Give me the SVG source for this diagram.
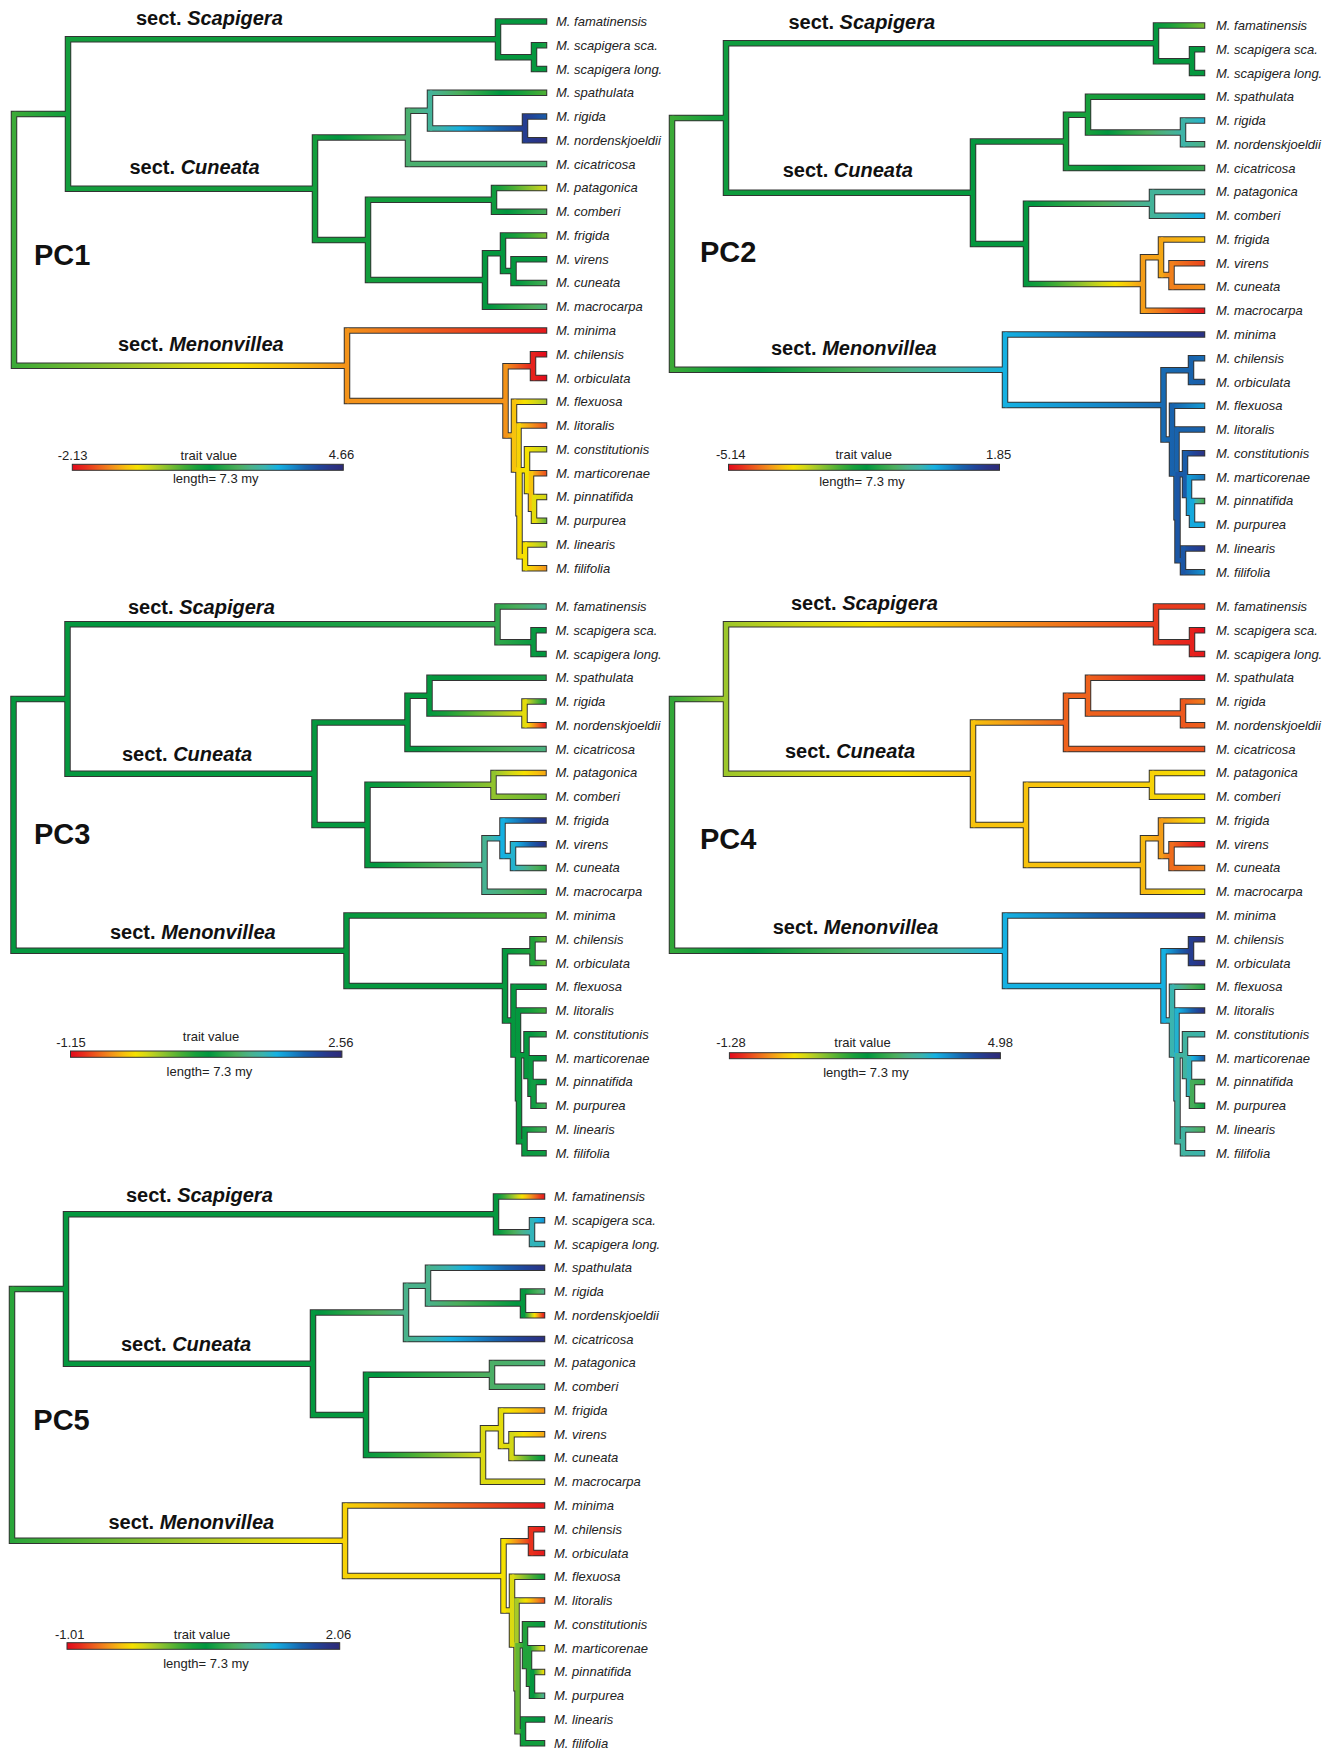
<svg xmlns="http://www.w3.org/2000/svg" width="1340" height="1750" viewBox="0 0 1340 1750">
<style>
.ol{fill:none;stroke:#333;stroke-width:6.5;stroke-linecap:square;stroke-linejoin:miter}
.t{font-family:"Liberation Sans",Arial,sans-serif;font-style:italic;font-size:13px;fill:#222}
.s{font-family:"Liberation Sans",Arial,sans-serif;font-weight:bold;font-size:20px;fill:#111}
.s tspan{font-style:italic}
.p{font-family:"Liberation Sans",Arial,sans-serif;font-weight:bold;font-size:29px;fill:#111}
.l{font-family:"Liberation Sans",Arial,sans-serif;font-size:13px;fill:#222;text-anchor:middle}
.bar{fill:url(#PB);stroke:#333;stroke-width:1}
</style>
<defs>
<linearGradient id="P" gradientUnits="userSpaceOnUse" x1="0" y1="0" x2="1" y2="0">
<stop offset="0" stop-color="#E30A1C"/><stop offset=".05" stop-color="#E8301D"/><stop offset=".1" stop-color="#EE611D"/><stop offset=".15" stop-color="#F3921A"/><stop offset=".2" stop-color="#F7C20D"/><stop offset=".24" stop-color="#F6E100"/><stop offset=".28" stop-color="#D4D816"/><stop offset=".32" stop-color="#A8CA28"/><stop offset=".36" stop-color="#7BBD31"/><stop offset=".41" stop-color="#45AD36"/><stop offset=".46" stop-color="#18A03C"/><stop offset=".51" stop-color="#00963F"/><stop offset=".56" stop-color="#28A548"/><stop offset=".61" stop-color="#4BAE5C"/><stop offset=".66" stop-color="#4AB28A"/><stop offset=".71" stop-color="#3BB4AE"/><stop offset=".76" stop-color="#15B1E2"/><stop offset=".81" stop-color="#168CCB"/><stop offset=".86" stop-color="#1863AD"/><stop offset=".91" stop-color="#20459A"/><stop offset=".955" stop-color="#2A3486"/><stop offset="1" stop-color="#2D2A78"/>
</linearGradient>
<linearGradient id="PR" href="#P" gradientUnits="userSpaceOnUse" x1="1" y1="0" x2="0" y2="0"/>
<linearGradient id="PB" href="#P" gradientUnits="objectBoundingBox" x1="0" y1="0" x2="1" y2="0"/>
<rect id="R" x="-1" y="-1" width="3" height="3" fill="url(#P)"/>
<rect id="Q" x="-1" y="-1" width="3" height="3" fill="url(#PR)"/>
<path id="T" d="M0 218.34V92.48H54M0 218.34V344.2H333M54 92.48V17.83H484M54 92.48V167.13H301M484 17.83V0H530M484 17.83V35.66H520M520 35.66V23.77H530M520 35.66V47.54H530M301 167.13V115.88H394M301 167.13V218.39H354M394 115.88V89.14H416M394 115.88V142.62H530M416 89.14V71.31H530M416 89.14V106.97H511M511 106.97V95.08H530M511 106.97V118.85H530M354 218.39V178.28H480M354 218.39V258.5H471M480 178.28V166.39H530M480 178.28V190.16H530M471 258.5V231.76H489M471 258.5V285.24H530M489 231.76V213.93H530M489 231.76V249.59H499.5M499.5 249.59V237.7H530M499.5 249.59V261.47H530M333 344.2V309.01H530M333 344.2V379.39H491.5M491.5 379.39V344.67H519M491.5 379.39V414.12H500M519 344.67V332.78H530M519 344.67V356.55H530M500 414.12V380.32H530M500 414.12V447.92H504.5M504.5 447.92V404.09H530M504.5 447.92V491.75H505.5M505.5 491.75V448.66H513M505.5 491.75V534.83H511M513 448.66V427.86H530M513 448.66V469.46H517M517 469.46V451.63H530M517 469.46V487.29H520M520 487.29V475.4H530M520 487.29V499.17H530M511 534.83V522.94H530M511 534.83V546.71H530"/>
</defs>
<rect width="1340" height="1750" fill="#fff"/>

<!-- ================= PC1 ================= -->
<g id="pc1" transform="translate(14 21.5)">
<g id="pc1-edges">
<use href="#T" class="ol"/>
<svg x="0" y="90.23" width="54" height="4.5" viewBox=".42 0 .05 1" preserveAspectRatio="none"><use href="#R"/></svg>
<svg x="0" y="341.95" width="333" height="4.5" viewBox=".58 0 .27 1" preserveAspectRatio="none"><use href="#Q"/></svg>
<svg x="54" y="15.58" width="430" height="4.5" viewBox=".47 0 .03 1" preserveAspectRatio="none"><use href="#R"/></svg>
<svg x="54" y="164.88" width="247" height="4.5" viewBox=".47 0 .002 1" preserveAspectRatio="none"><use href="#R"/></svg>
<svg x="484" y="-2.25" width="48.25" height="4.5" viewBox=".5 0 .002 1" preserveAspectRatio="none"><use href="#R"/></svg>
<svg x="484" y="33.41" width="36" height="4.5" viewBox=".5 0 .002 1" preserveAspectRatio="none"><use href="#R"/></svg>
<svg x="520" y="21.52" width="12.25" height="4.5" viewBox=".5 0 .05 1" preserveAspectRatio="none"><use href="#R"/></svg>
<svg x="520" y="45.29" width="12.25" height="4.5" viewBox=".5 0 .002 1" preserveAspectRatio="none"><use href="#R"/></svg>
<svg x="301" y="113.63" width="93" height="4.5" viewBox=".47 0 .16 1" preserveAspectRatio="none"><use href="#R"/></svg>
<svg x="301" y="216.14" width="53" height="4.5" viewBox=".47 0 .002 1" preserveAspectRatio="none"><use href="#R"/></svg>
<svg x="394" y="86.89" width="22" height="4.5" viewBox=".63 0 .05 1" preserveAspectRatio="none"><use href="#R"/></svg>
<svg x="394" y="140.37" width="138.25" height="4.5" viewBox=".63 0 .002 1" preserveAspectRatio="none"><use href="#R"/></svg>
<svg x="416" y="69.06" width="116.25" height="4.5" viewBox=".32 0 .28 1" preserveAspectRatio="none"><use href="#Q"/></svg>
<svg x="416" y="104.72" width="95" height="4.5" viewBox=".68 0 .25 1" preserveAspectRatio="none"><use href="#R"/></svg>
<svg x="511" y="92.83" width="21.25" height="4.5" viewBox=".07 0 .06 1" preserveAspectRatio="none"><use href="#Q"/></svg>
<svg x="511" y="116.6" width="21.25" height="4.5" viewBox=".93 0 .04 1" preserveAspectRatio="none"><use href="#R"/></svg>
<svg x="354" y="176.03" width="126" height="4.5" viewBox=".47 0 .01 1" preserveAspectRatio="none"><use href="#R"/></svg>
<svg x="354" y="256.25" width="117" height="4.5" viewBox=".47 0 .03 1" preserveAspectRatio="none"><use href="#R"/></svg>
<svg x="480" y="164.14" width="52.25" height="4.5" viewBox=".52 0 .2 1" preserveAspectRatio="none"><use href="#Q"/></svg>
<svg x="480" y="187.91" width="52.25" height="4.5" viewBox=".48 0 .12 1" preserveAspectRatio="none"><use href="#R"/></svg>
<svg x="471" y="229.51" width="18" height="4.5" viewBox=".5 0 .002 1" preserveAspectRatio="none"><use href="#R"/></svg>
<svg x="471" y="282.99" width="61.25" height="4.5" viewBox=".5 0 .14 1" preserveAspectRatio="none"><use href="#R"/></svg>
<svg x="489" y="211.68" width="43.25" height="4.5" viewBox=".5 0 .14 1" preserveAspectRatio="none"><use href="#Q"/></svg>
<svg x="489" y="247.34" width="10.5" height="4.5" viewBox=".5 0 .002 1" preserveAspectRatio="none"><use href="#R"/></svg>
<svg x="499.5" y="235.45" width="32.75" height="4.5" viewBox=".5 0 .002 1" preserveAspectRatio="none"><use href="#R"/></svg>
<svg x="499.5" y="259.22" width="32.75" height="4.5" viewBox=".5 0 .1 1" preserveAspectRatio="none"><use href="#R"/></svg>
<svg x="333" y="306.76" width="199.25" height="4.5" viewBox=".85 0 .13 1" preserveAspectRatio="none"><use href="#Q"/></svg>
<svg x="333" y="377.14" width="158.5" height="4.5" viewBox=".15 0 .002 1" preserveAspectRatio="none"><use href="#R"/></svg>
<svg x="491.5" y="342.42" width="27.5" height="4.5" viewBox=".85 0 .12 1" preserveAspectRatio="none"><use href="#Q"/></svg>
<svg x="491.5" y="411.87" width="8.5" height="4.5" viewBox=".15 0 .05 1" preserveAspectRatio="none"><use href="#R"/></svg>
<svg x="519" y="330.53" width="13.25" height="4.5" viewBox=".97 0 .03 1" preserveAspectRatio="none"><use href="#Q"/></svg>
<svg x="519" y="354.3" width="13.25" height="4.5" viewBox=".97 0 .03 1" preserveAspectRatio="none"><use href="#Q"/></svg>
<svg x="500" y="378.07" width="32.25" height="4.5" viewBox=".2 0 .12 1" preserveAspectRatio="none"><use href="#R"/></svg>
<svg x="500" y="445.67" width="4.5" height="4.5" viewBox=".2 0 .02 1" preserveAspectRatio="none"><use href="#R"/></svg>
<svg x="504.5" y="401.84" width="27.75" height="4.5" viewBox=".78 0 .14 1" preserveAspectRatio="none"><use href="#Q"/></svg>
<svg x="504.5" y="489.5" width="1" height="4.5" viewBox=".22 0 .01 1" preserveAspectRatio="none"><use href="#R"/></svg>
<svg x="505.5" y="446.41" width="7.5" height="4.5" viewBox=".23 0 .01 1" preserveAspectRatio="none"><use href="#R"/></svg>
<svg x="505.5" y="532.58" width="5.5" height="4.5" viewBox=".23 0 .01 1" preserveAspectRatio="none"><use href="#R"/></svg>
<svg x="513" y="425.61" width="19.25" height="4.5" viewBox=".24 0 .06 1" preserveAspectRatio="none"><use href="#R"/></svg>
<svg x="513" y="467.21" width="4" height="4.5" viewBox=".76 0 .04 1" preserveAspectRatio="none"><use href="#Q"/></svg>
<svg x="517" y="449.38" width="15.25" height="4.5" viewBox=".8 0 .12 1" preserveAspectRatio="none"><use href="#Q"/></svg>
<svg x="517" y="485.04" width="3" height="4.5" viewBox=".2 0 .06 1" preserveAspectRatio="none"><use href="#R"/></svg>
<svg x="520" y="473.15" width="12.25" height="4.5" viewBox=".26 0 .02 1" preserveAspectRatio="none"><use href="#R"/></svg>
<svg x="520" y="496.92" width="12.25" height="4.5" viewBox=".26 0 .12 1" preserveAspectRatio="none"><use href="#R"/></svg>
<svg x="511" y="520.69" width="21.25" height="4.5" viewBox=".24 0 .09 1" preserveAspectRatio="none"><use href="#R"/></svg>
<svg x="511" y="544.46" width="21.25" height="4.5" viewBox=".76 0 .09 1" preserveAspectRatio="none"><use href="#Q"/></svg>
<svg x="-2.25" y="90.23" width="4.5" height="256.22" viewBox=".42 0 .002 1" preserveAspectRatio="none"><use href="#R"/></svg>
<svg x="51.75" y="15.58" width="4.5" height="153.8" viewBox=".47 0 .002 1" preserveAspectRatio="none"><use href="#R"/></svg>
<svg x="481.75" y="-2.25" width="4.5" height="40.16" viewBox=".5 0 .002 1" preserveAspectRatio="none"><use href="#R"/></svg>
<svg x="517.75" y="21.52" width="4.5" height="28.27" viewBox=".5 0 .002 1" preserveAspectRatio="none"><use href="#R"/></svg>
<svg x="298.75" y="113.63" width="4.5" height="107.01" viewBox=".47 0 .002 1" preserveAspectRatio="none"><use href="#R"/></svg>
<svg x="391.75" y="86.89" width="4.5" height="57.98" viewBox=".63 0 .002 1" preserveAspectRatio="none"><use href="#R"/></svg>
<svg x="413.75" y="69.06" width="4.5" height="40.16" viewBox=".68 0 .002 1" preserveAspectRatio="none"><use href="#R"/></svg>
<svg x="508.75" y="92.83" width="4.5" height="28.27" viewBox=".93 0 .002 1" preserveAspectRatio="none"><use href="#R"/></svg>
<svg x="351.75" y="176.03" width="4.5" height="84.72" viewBox=".47 0 .002 1" preserveAspectRatio="none"><use href="#R"/></svg>
<svg x="477.75" y="164.14" width="4.5" height="28.27" viewBox=".48 0 .002 1" preserveAspectRatio="none"><use href="#R"/></svg>
<svg x="468.75" y="229.51" width="4.5" height="57.98" viewBox=".5 0 .002 1" preserveAspectRatio="none"><use href="#R"/></svg>
<svg x="486.75" y="211.68" width="4.5" height="40.16" viewBox=".5 0 .002 1" preserveAspectRatio="none"><use href="#R"/></svg>
<svg x="497.25" y="235.45" width="4.5" height="28.27" viewBox=".5 0 .002 1" preserveAspectRatio="none"><use href="#R"/></svg>
<svg x="330.75" y="306.76" width="4.5" height="74.88" viewBox=".15 0 .002 1" preserveAspectRatio="none"><use href="#R"/></svg>
<svg x="489.25" y="342.42" width="4.5" height="73.95" viewBox=".15 0 .002 1" preserveAspectRatio="none"><use href="#R"/></svg>
<svg x="516.75" y="330.53" width="4.5" height="28.27" viewBox=".03 0 .002 1" preserveAspectRatio="none"><use href="#R"/></svg>
<svg x="497.75" y="378.07" width="4.5" height="72.1" viewBox=".2 0 .002 1" preserveAspectRatio="none"><use href="#R"/></svg>
<svg x="502.25" y="401.84" width="4.5" height="92.16" viewBox=".22 0 .002 1" preserveAspectRatio="none"><use href="#R"/></svg>
<svg x="503.25" y="446.41" width="4.5" height="90.67" viewBox=".23 0 .002 1" preserveAspectRatio="none"><use href="#R"/></svg>
<svg x="510.75" y="425.61" width="4.5" height="46.1" viewBox=".24 0 .002 1" preserveAspectRatio="none"><use href="#R"/></svg>
<svg x="514.75" y="449.38" width="4.5" height="40.16" viewBox=".2 0 .002 1" preserveAspectRatio="none"><use href="#R"/></svg>
<svg x="517.75" y="473.15" width="4.5" height="28.27" viewBox=".26 0 .002 1" preserveAspectRatio="none"><use href="#R"/></svg>
<svg x="508.75" y="520.69" width="4.5" height="28.27" viewBox=".24 0 .002 1" preserveAspectRatio="none"><use href="#R"/></svg>
</g>
<g id="pc1-tips">
<text class="t" x="542" y="4.5">M. famatinensis</text>
<text class="t" x="542" y="28.27">M. scapigera sca.</text>
<text class="t" x="542" y="52.04">M. scapigera long.</text>
<text class="t" x="542" y="75.81">M. spathulata</text>
<text class="t" x="542" y="99.58">M. rigida</text>
<text class="t" x="542" y="123.35">M. nordenskjoeldii</text>
<text class="t" x="542" y="147.12">M. cicatricosa</text>
<text class="t" x="542" y="170.89">M. patagonica</text>
<text class="t" x="542" y="194.66">M. comberi</text>
<text class="t" x="542" y="218.43">M. frigida</text>
<text class="t" x="542" y="242.2">M. virens</text>
<text class="t" x="542" y="265.97">M. cuneata</text>
<text class="t" x="542" y="289.74">M. macrocarpa</text>
<text class="t" x="542" y="313.51">M. minima</text>
<text class="t" x="542" y="337.28">M. chilensis</text>
<text class="t" x="542" y="361.05">M. orbiculata</text>
<text class="t" x="542" y="384.82">M. flexuosa</text>
<text class="t" x="542" y="408.59">M. litoralis</text>
<text class="t" x="542" y="432.36">M. constitutionis</text>
<text class="t" x="542" y="456.13">M. marticorenae</text>
<text class="t" x="542" y="479.9">M. pinnatifida</text>
<text class="t" x="542" y="503.67">M. purpurea</text>
<text class="t" x="542" y="527.44">M. linearis</text>
<text class="t" x="542" y="551.21">M. filifolia</text>
</g>
</g>
<g id="pc1-labels">
<text class="s" x="136" y="25.3">sect. <tspan>Scapigera</tspan></text>
<text class="s" x="129.5" y="173.6">sect. <tspan>Cuneata</tspan></text>
<text class="s" x="118" y="351">sect. <tspan>Menonvillea</tspan></text>
<text class="p" x="34" y="265">PC1</text>
</g>
<g id="pc1-legend">
<text class="l" x="72.6" y="459.5">-2.13</text>
<text class="l" x="208.8" y="459.5">trait value</text>
<text class="l" x="341.5" y="458.5">4.66</text>
<rect class="bar" x="72.3" y="464.3" width="271" height="6"/>
<text class="l" x="215.8" y="482.5">length= 7.3 my</text>
</g>

<!-- ================= PC2 ================= -->
<g id="pc2" transform="translate(672 25.5)">
<g id="pc2-edges">
<use href="#T" class="ol"/>
<svg x="0" y="90.23" width="54" height="4.5" viewBox=".42 0 .06 1" preserveAspectRatio="none"><use href="#R"/></svg>
<svg x="0" y="341.95" width="333" height="4.5" viewBox=".42 0 .34 1" preserveAspectRatio="none"><use href="#R"/></svg>
<svg x="54" y="15.58" width="430" height="4.5" viewBox=".48 0 .02 1" preserveAspectRatio="none"><use href="#R"/></svg>
<svg x="54" y="164.88" width="247" height="4.5" viewBox=".48 0 .02 1" preserveAspectRatio="none"><use href="#R"/></svg>
<svg x="484" y="-2.25" width="48.25" height="4.5" viewBox=".5 0 .14 1" preserveAspectRatio="none"><use href="#Q"/></svg>
<svg x="484" y="33.41" width="36" height="4.5" viewBox=".5 0 .002 1" preserveAspectRatio="none"><use href="#R"/></svg>
<svg x="520" y="21.52" width="12.25" height="4.5" viewBox=".5 0 .002 1" preserveAspectRatio="none"><use href="#R"/></svg>
<svg x="520" y="45.29" width="12.25" height="4.5" viewBox=".5 0 .002 1" preserveAspectRatio="none"><use href="#R"/></svg>
<svg x="301" y="113.63" width="93" height="4.5" viewBox=".5 0 .03 1" preserveAspectRatio="none"><use href="#Q"/></svg>
<svg x="301" y="216.14" width="53" height="4.5" viewBox=".5 0 .002 1" preserveAspectRatio="none"><use href="#R"/></svg>
<svg x="394" y="86.89" width="22" height="4.5" viewBox=".53 0 .01 1" preserveAspectRatio="none"><use href="#Q"/></svg>
<svg x="394" y="140.37" width="138.25" height="4.5" viewBox=".47 0 .11 1" preserveAspectRatio="none"><use href="#R"/></svg>
<svg x="416" y="69.06" width="116.25" height="4.5" viewBox=".46 0 .04 1" preserveAspectRatio="none"><use href="#R"/></svg>
<svg x="416" y="104.72" width="95" height="4.5" viewBox=".46 0 .24 1" preserveAspectRatio="none"><use href="#R"/></svg>
<svg x="511" y="92.83" width="21.25" height="4.5" viewBox=".7 0 .04 1" preserveAspectRatio="none"><use href="#R"/></svg>
<svg x="511" y="116.6" width="21.25" height="4.5" viewBox=".3 0 .05 1" preserveAspectRatio="none"><use href="#Q"/></svg>
<svg x="354" y="176.03" width="126" height="4.5" viewBox=".5 0 .18 1" preserveAspectRatio="none"><use href="#R"/></svg>
<svg x="354" y="256.25" width="117" height="4.5" viewBox=".5 0 .34 1" preserveAspectRatio="none"><use href="#Q"/></svg>
<svg x="480" y="164.14" width="52.25" height="4.5" viewBox=".68 0 .002 1" preserveAspectRatio="none"><use href="#R"/></svg>
<svg x="480" y="187.91" width="52.25" height="4.5" viewBox=".68 0 .09 1" preserveAspectRatio="none"><use href="#R"/></svg>
<svg x="471" y="229.51" width="18" height="4.5" viewBox=".16 0 .01 1" preserveAspectRatio="none"><use href="#R"/></svg>
<svg x="471" y="282.99" width="61.25" height="4.5" viewBox=".84 0 .14 1" preserveAspectRatio="none"><use href="#Q"/></svg>
<svg x="489" y="211.68" width="43.25" height="4.5" viewBox=".17 0 .03 1" preserveAspectRatio="none"><use href="#R"/></svg>
<svg x="489" y="247.34" width="10.5" height="4.5" viewBox=".83 0 .04 1" preserveAspectRatio="none"><use href="#Q"/></svg>
<svg x="499.5" y="235.45" width="32.75" height="4.5" viewBox=".87 0 .06 1" preserveAspectRatio="none"><use href="#Q"/></svg>
<svg x="499.5" y="259.22" width="32.75" height="4.5" viewBox=".13 0 .02 1" preserveAspectRatio="none"><use href="#R"/></svg>
<svg x="333" y="306.76" width="199.25" height="4.5" viewBox=".76 0 .2 1" preserveAspectRatio="none"><use href="#R"/></svg>
<svg x="333" y="377.14" width="158.5" height="4.5" viewBox=".76 0 .09 1" preserveAspectRatio="none"><use href="#R"/></svg>
<svg x="491.5" y="342.42" width="27.5" height="4.5" viewBox=".85 0 .01 1" preserveAspectRatio="none"><use href="#R"/></svg>
<svg x="491.5" y="411.87" width="8.5" height="4.5" viewBox=".85 0 .01 1" preserveAspectRatio="none"><use href="#R"/></svg>
<svg x="519" y="330.53" width="13.25" height="4.5" viewBox=".14 0 .01 1" preserveAspectRatio="none"><use href="#Q"/></svg>
<svg x="519" y="354.3" width="13.25" height="4.5" viewBox=".86 0 .01 1" preserveAspectRatio="none"><use href="#R"/></svg>
<svg x="500" y="378.07" width="32.25" height="4.5" viewBox=".14 0 .07 1" preserveAspectRatio="none"><use href="#Q"/></svg>
<svg x="500" y="445.67" width="4.5" height="4.5" viewBox=".86 0 .002 1" preserveAspectRatio="none"><use href="#R"/></svg>
<svg x="504.5" y="401.84" width="27.75" height="4.5" viewBox=".86 0 .002 1" preserveAspectRatio="none"><use href="#R"/></svg>
<svg x="504.5" y="489.5" width="1" height="4.5" viewBox=".86 0 .02 1" preserveAspectRatio="none"><use href="#R"/></svg>
<svg x="505.5" y="446.41" width="7.5" height="4.5" viewBox=".12 0 .01 1" preserveAspectRatio="none"><use href="#Q"/></svg>
<svg x="505.5" y="532.58" width="5.5" height="4.5" viewBox=".88 0 .002 1" preserveAspectRatio="none"><use href="#R"/></svg>
<svg x="513" y="425.61" width="19.25" height="4.5" viewBox=".87 0 .09 1" preserveAspectRatio="none"><use href="#R"/></svg>
<svg x="513" y="467.21" width="4" height="4.5" viewBox=".13 0 .08 1" preserveAspectRatio="none"><use href="#Q"/></svg>
<svg x="517" y="449.38" width="15.25" height="4.5" viewBox=".79 0 .05 1" preserveAspectRatio="none"><use href="#R"/></svg>
<svg x="517" y="485.04" width="3" height="4.5" viewBox=".21 0 .02 1" preserveAspectRatio="none"><use href="#Q"/></svg>
<svg x="520" y="473.15" width="12.25" height="4.5" viewBox=".23 0 .19 1" preserveAspectRatio="none"><use href="#Q"/></svg>
<svg x="520" y="496.92" width="12.25" height="4.5" viewBox=".77 0 .002 1" preserveAspectRatio="none"><use href="#R"/></svg>
<svg x="511" y="520.69" width="21.25" height="4.5" viewBox=".88 0 .07 1" preserveAspectRatio="none"><use href="#R"/></svg>
<svg x="511" y="544.46" width="21.25" height="4.5" viewBox=".12 0 .08 1" preserveAspectRatio="none"><use href="#Q"/></svg>
<svg x="-2.25" y="90.23" width="4.5" height="256.22" viewBox=".42 0 .002 1" preserveAspectRatio="none"><use href="#R"/></svg>
<svg x="51.75" y="15.58" width="4.5" height="153.8" viewBox=".48 0 .002 1" preserveAspectRatio="none"><use href="#R"/></svg>
<svg x="481.75" y="-2.25" width="4.5" height="40.16" viewBox=".5 0 .002 1" preserveAspectRatio="none"><use href="#R"/></svg>
<svg x="517.75" y="21.52" width="4.5" height="28.27" viewBox=".5 0 .002 1" preserveAspectRatio="none"><use href="#R"/></svg>
<svg x="298.75" y="113.63" width="4.5" height="107.01" viewBox=".5 0 .002 1" preserveAspectRatio="none"><use href="#R"/></svg>
<svg x="391.75" y="86.89" width="4.5" height="57.98" viewBox=".47 0 .002 1" preserveAspectRatio="none"><use href="#R"/></svg>
<svg x="413.75" y="69.06" width="4.5" height="40.16" viewBox=".46 0 .002 1" preserveAspectRatio="none"><use href="#R"/></svg>
<svg x="508.75" y="92.83" width="4.5" height="28.27" viewBox=".7 0 .002 1" preserveAspectRatio="none"><use href="#R"/></svg>
<svg x="351.75" y="176.03" width="4.5" height="84.72" viewBox=".5 0 .002 1" preserveAspectRatio="none"><use href="#R"/></svg>
<svg x="477.75" y="164.14" width="4.5" height="28.27" viewBox=".68 0 .002 1" preserveAspectRatio="none"><use href="#R"/></svg>
<svg x="468.75" y="229.51" width="4.5" height="57.98" viewBox=".16 0 .002 1" preserveAspectRatio="none"><use href="#R"/></svg>
<svg x="486.75" y="211.68" width="4.5" height="40.16" viewBox=".17 0 .002 1" preserveAspectRatio="none"><use href="#R"/></svg>
<svg x="497.25" y="235.45" width="4.5" height="28.27" viewBox=".13 0 .002 1" preserveAspectRatio="none"><use href="#R"/></svg>
<svg x="330.75" y="306.76" width="4.5" height="74.88" viewBox=".76 0 .002 1" preserveAspectRatio="none"><use href="#R"/></svg>
<svg x="489.25" y="342.42" width="4.5" height="73.95" viewBox=".85 0 .002 1" preserveAspectRatio="none"><use href="#R"/></svg>
<svg x="516.75" y="330.53" width="4.5" height="28.27" viewBox=".86 0 .002 1" preserveAspectRatio="none"><use href="#R"/></svg>
<svg x="497.75" y="378.07" width="4.5" height="72.1" viewBox=".86 0 .002 1" preserveAspectRatio="none"><use href="#R"/></svg>
<svg x="502.25" y="401.84" width="4.5" height="92.16" viewBox=".86 0 .002 1" preserveAspectRatio="none"><use href="#R"/></svg>
<svg x="503.25" y="446.41" width="4.5" height="90.67" viewBox=".88 0 .002 1" preserveAspectRatio="none"><use href="#R"/></svg>
<svg x="510.75" y="425.61" width="4.5" height="46.1" viewBox=".87 0 .002 1" preserveAspectRatio="none"><use href="#R"/></svg>
<svg x="514.75" y="449.38" width="4.5" height="40.16" viewBox=".79 0 .002 1" preserveAspectRatio="none"><use href="#R"/></svg>
<svg x="517.75" y="473.15" width="4.5" height="28.27" viewBox=".77 0 .002 1" preserveAspectRatio="none"><use href="#R"/></svg>
<svg x="508.75" y="520.69" width="4.5" height="28.27" viewBox=".88 0 .002 1" preserveAspectRatio="none"><use href="#R"/></svg>
</g>
<g id="pc2-tips">
<text class="t" x="544" y="4.5">M. famatinensis</text>
<text class="t" x="544" y="28.27">M. scapigera sca.</text>
<text class="t" x="544" y="52.04">M. scapigera long.</text>
<text class="t" x="544" y="75.81">M. spathulata</text>
<text class="t" x="544" y="99.58">M. rigida</text>
<text class="t" x="544" y="123.35">M. nordenskjoeldii</text>
<text class="t" x="544" y="147.12">M. cicatricosa</text>
<text class="t" x="544" y="170.89">M. patagonica</text>
<text class="t" x="544" y="194.66">M. comberi</text>
<text class="t" x="544" y="218.43">M. frigida</text>
<text class="t" x="544" y="242.2">M. virens</text>
<text class="t" x="544" y="265.97">M. cuneata</text>
<text class="t" x="544" y="289.74">M. macrocarpa</text>
<text class="t" x="544" y="313.51">M. minima</text>
<text class="t" x="544" y="337.28">M. chilensis</text>
<text class="t" x="544" y="361.05">M. orbiculata</text>
<text class="t" x="544" y="384.82">M. flexuosa</text>
<text class="t" x="544" y="408.59">M. litoralis</text>
<text class="t" x="544" y="432.36">M. constitutionis</text>
<text class="t" x="544" y="456.13">M. marticorenae</text>
<text class="t" x="544" y="479.9">M. pinnatifida</text>
<text class="t" x="544" y="503.67">M. purpurea</text>
<text class="t" x="544" y="527.44">M. linearis</text>
<text class="t" x="544" y="551.21">M. filifolia</text>
</g>
</g>
<g id="pc2-labels">
<text class="s" x="788.4" y="28.6">sect. <tspan>Scapigera</tspan></text>
<text class="s" x="782.7" y="177">sect. <tspan>Cuneata</tspan></text>
<text class="s" x="771" y="354.6">sect. <tspan>Menonvillea</tspan></text>
<text class="p" x="700" y="262">PC2</text>
</g>
<g id="pc2-legend">
<text class="l" x="730.8" y="459">-5.14</text>
<text class="l" x="863.7" y="459">trait value</text>
<text class="l" x="998.6" y="459">1.85</text>
<rect class="bar" x="728.5" y="464.3" width="271" height="6"/>
<text class="l" x="862" y="486">length= 7.3 my</text>
</g>

<!-- ================= PC3 ================= -->
<g id="pc3" transform="translate(13.5 606.5)">
<g id="pc3-edges">
<use href="#T" class="ol"/>
<svg x="0" y="90.23" width="54" height="4.5" viewBox=".5 0 .002 1" preserveAspectRatio="none"><use href="#R"/></svg>
<svg x="0" y="341.95" width="333" height="4.5" viewBox=".5 0 .002 1" preserveAspectRatio="none"><use href="#R"/></svg>
<svg x="54" y="15.58" width="430" height="4.5" viewBox=".5 0 .07 1" preserveAspectRatio="none"><use href="#R"/></svg>
<svg x="54" y="164.88" width="247" height="4.5" viewBox=".5 0 .002 1" preserveAspectRatio="none"><use href="#R"/></svg>
<svg x="484" y="-2.25" width="48.25" height="4.5" viewBox=".57 0 .1 1" preserveAspectRatio="none"><use href="#R"/></svg>
<svg x="484" y="33.41" width="36" height="4.5" viewBox=".43 0 .05 1" preserveAspectRatio="none"><use href="#Q"/></svg>
<svg x="520" y="21.52" width="12.25" height="4.5" viewBox=".48 0 .02 1" preserveAspectRatio="none"><use href="#Q"/></svg>
<svg x="520" y="45.29" width="12.25" height="4.5" viewBox=".48 0 .02 1" preserveAspectRatio="none"><use href="#Q"/></svg>
<svg x="301" y="113.63" width="93" height="4.5" viewBox=".5 0 .002 1" preserveAspectRatio="none"><use href="#R"/></svg>
<svg x="301" y="216.14" width="53" height="4.5" viewBox=".5 0 .002 1" preserveAspectRatio="none"><use href="#R"/></svg>
<svg x="394" y="86.89" width="22" height="4.5" viewBox=".5 0 .002 1" preserveAspectRatio="none"><use href="#R"/></svg>
<svg x="394" y="140.37" width="138.25" height="4.5" viewBox=".5 0 .15 1" preserveAspectRatio="none"><use href="#R"/></svg>
<svg x="416" y="69.06" width="116.25" height="4.5" viewBox=".5 0 .04 1" preserveAspectRatio="none"><use href="#R"/></svg>
<svg x="416" y="104.72" width="95" height="4.5" viewBox=".5 0 .24 1" preserveAspectRatio="none"><use href="#Q"/></svg>
<svg x="511" y="92.83" width="21.25" height="4.5" viewBox=".26 0 .22 1" preserveAspectRatio="none"><use href="#R"/></svg>
<svg x="511" y="116.6" width="21.25" height="4.5" viewBox=".74 0 .24 1" preserveAspectRatio="none"><use href="#Q"/></svg>
<svg x="354" y="176.03" width="126" height="4.5" viewBox=".5 0 .16 1" preserveAspectRatio="none"><use href="#Q"/></svg>
<svg x="354" y="256.25" width="117" height="4.5" viewBox=".5 0 .17 1" preserveAspectRatio="none"><use href="#R"/></svg>
<svg x="480" y="164.14" width="52.25" height="4.5" viewBox=".66 0 .17 1" preserveAspectRatio="none"><use href="#Q"/></svg>
<svg x="480" y="187.91" width="52.25" height="4.5" viewBox=".34 0 .04 1" preserveAspectRatio="none"><use href="#R"/></svg>
<svg x="471" y="229.51" width="18" height="4.5" viewBox=".67 0 .09 1" preserveAspectRatio="none"><use href="#R"/></svg>
<svg x="471" y="282.99" width="61.25" height="4.5" viewBox=".33 0 .1 1" preserveAspectRatio="none"><use href="#Q"/></svg>
<svg x="489" y="211.68" width="43.25" height="4.5" viewBox=".76 0 .2 1" preserveAspectRatio="none"><use href="#R"/></svg>
<svg x="489" y="247.34" width="10.5" height="4.5" viewBox=".24 0 .02 1" preserveAspectRatio="none"><use href="#Q"/></svg>
<svg x="499.5" y="235.45" width="32.75" height="4.5" viewBox=".74 0 .22 1" preserveAspectRatio="none"><use href="#R"/></svg>
<svg x="499.5" y="259.22" width="32.75" height="4.5" viewBox=".26 0 .18 1" preserveAspectRatio="none"><use href="#Q"/></svg>
<svg x="333" y="306.76" width="199.25" height="4.5" viewBox=".5 0 .1 1" preserveAspectRatio="none"><use href="#Q"/></svg>
<svg x="333" y="377.14" width="158.5" height="4.5" viewBox=".5 0 .002 1" preserveAspectRatio="none"><use href="#R"/></svg>
<svg x="491.5" y="342.42" width="27.5" height="4.5" viewBox=".5 0 .05 1" preserveAspectRatio="none"><use href="#Q"/></svg>
<svg x="491.5" y="411.87" width="8.5" height="4.5" viewBox=".5 0 .002 1" preserveAspectRatio="none"><use href="#R"/></svg>
<svg x="519" y="330.53" width="13.25" height="4.5" viewBox=".55 0 .07 1" preserveAspectRatio="none"><use href="#Q"/></svg>
<svg x="519" y="354.3" width="13.25" height="4.5" viewBox=".55 0 .07 1" preserveAspectRatio="none"><use href="#Q"/></svg>
<svg x="500" y="378.07" width="32.25" height="4.5" viewBox=".5 0 .002 1" preserveAspectRatio="none"><use href="#R"/></svg>
<svg x="500" y="445.67" width="4.5" height="4.5" viewBox=".5 0 .002 1" preserveAspectRatio="none"><use href="#R"/></svg>
<svg x="504.5" y="401.84" width="27.75" height="4.5" viewBox=".5 0 .08 1" preserveAspectRatio="none"><use href="#Q"/></svg>
<svg x="504.5" y="489.5" width="1" height="4.5" viewBox=".5 0 .01 1" preserveAspectRatio="none"><use href="#Q"/></svg>
<svg x="505.5" y="446.41" width="7.5" height="4.5" viewBox=".49 0 .01 1" preserveAspectRatio="none"><use href="#R"/></svg>
<svg x="505.5" y="532.58" width="5.5" height="4.5" viewBox=".49 0 .03 1" preserveAspectRatio="none"><use href="#R"/></svg>
<svg x="513" y="425.61" width="19.25" height="4.5" viewBox=".5 0 .06 1" preserveAspectRatio="none"><use href="#R"/></svg>
<svg x="513" y="467.21" width="4" height="4.5" viewBox=".5 0 .02 1" preserveAspectRatio="none"><use href="#R"/></svg>
<svg x="517" y="449.38" width="15.25" height="4.5" viewBox=".48 0 .02 1" preserveAspectRatio="none"><use href="#Q"/></svg>
<svg x="517" y="485.04" width="3" height="4.5" viewBox=".52 0 .01 1" preserveAspectRatio="none"><use href="#R"/></svg>
<svg x="520" y="473.15" width="12.25" height="4.5" viewBox=".47 0 .03 1" preserveAspectRatio="none"><use href="#Q"/></svg>
<svg x="520" y="496.92" width="12.25" height="4.5" viewBox=".53 0 .07 1" preserveAspectRatio="none"><use href="#R"/></svg>
<svg x="511" y="520.69" width="21.25" height="4.5" viewBox=".52 0 .08 1" preserveAspectRatio="none"><use href="#R"/></svg>
<svg x="511" y="544.46" width="21.25" height="4.5" viewBox=".52 0 .01 1" preserveAspectRatio="none"><use href="#R"/></svg>
<svg x="-2.25" y="90.23" width="4.5" height="256.22" viewBox=".5 0 .002 1" preserveAspectRatio="none"><use href="#R"/></svg>
<svg x="51.75" y="15.58" width="4.5" height="153.8" viewBox=".5 0 .002 1" preserveAspectRatio="none"><use href="#R"/></svg>
<svg x="481.75" y="-2.25" width="4.5" height="40.16" viewBox=".57 0 .002 1" preserveAspectRatio="none"><use href="#R"/></svg>
<svg x="517.75" y="21.52" width="4.5" height="28.27" viewBox=".52 0 .002 1" preserveAspectRatio="none"><use href="#R"/></svg>
<svg x="298.75" y="113.63" width="4.5" height="107.01" viewBox=".5 0 .002 1" preserveAspectRatio="none"><use href="#R"/></svg>
<svg x="391.75" y="86.89" width="4.5" height="57.98" viewBox=".5 0 .002 1" preserveAspectRatio="none"><use href="#R"/></svg>
<svg x="413.75" y="69.06" width="4.5" height="40.16" viewBox=".5 0 .002 1" preserveAspectRatio="none"><use href="#R"/></svg>
<svg x="508.75" y="92.83" width="4.5" height="28.27" viewBox=".26 0 .002 1" preserveAspectRatio="none"><use href="#R"/></svg>
<svg x="351.75" y="176.03" width="4.5" height="84.72" viewBox=".5 0 .002 1" preserveAspectRatio="none"><use href="#R"/></svg>
<svg x="477.75" y="164.14" width="4.5" height="28.27" viewBox=".34 0 .002 1" preserveAspectRatio="none"><use href="#R"/></svg>
<svg x="468.75" y="229.51" width="4.5" height="57.98" viewBox=".67 0 .002 1" preserveAspectRatio="none"><use href="#R"/></svg>
<svg x="486.75" y="211.68" width="4.5" height="40.16" viewBox=".76 0 .002 1" preserveAspectRatio="none"><use href="#R"/></svg>
<svg x="497.25" y="235.45" width="4.5" height="28.27" viewBox=".74 0 .002 1" preserveAspectRatio="none"><use href="#R"/></svg>
<svg x="330.75" y="306.76" width="4.5" height="74.88" viewBox=".5 0 .002 1" preserveAspectRatio="none"><use href="#R"/></svg>
<svg x="489.25" y="342.42" width="4.5" height="73.95" viewBox=".5 0 .002 1" preserveAspectRatio="none"><use href="#R"/></svg>
<svg x="516.75" y="330.53" width="4.5" height="28.27" viewBox=".45 0 .002 1" preserveAspectRatio="none"><use href="#R"/></svg>
<svg x="497.75" y="378.07" width="4.5" height="72.1" viewBox=".5 0 .002 1" preserveAspectRatio="none"><use href="#R"/></svg>
<svg x="502.25" y="401.84" width="4.5" height="92.16" viewBox=".5 0 .002 1" preserveAspectRatio="none"><use href="#R"/></svg>
<svg x="503.25" y="446.41" width="4.5" height="90.67" viewBox=".49 0 .002 1" preserveAspectRatio="none"><use href="#R"/></svg>
<svg x="510.75" y="425.61" width="4.5" height="46.1" viewBox=".5 0 .002 1" preserveAspectRatio="none"><use href="#R"/></svg>
<svg x="514.75" y="449.38" width="4.5" height="40.16" viewBox=".52 0 .002 1" preserveAspectRatio="none"><use href="#R"/></svg>
<svg x="517.75" y="473.15" width="4.5" height="28.27" viewBox=".53 0 .002 1" preserveAspectRatio="none"><use href="#R"/></svg>
<svg x="508.75" y="520.69" width="4.5" height="28.27" viewBox=".52 0 .002 1" preserveAspectRatio="none"><use href="#R"/></svg>
</g>
<g id="pc3-tips">
<text class="t" x="542" y="4.5">M. famatinensis</text>
<text class="t" x="542" y="28.27">M. scapigera sca.</text>
<text class="t" x="542" y="52.04">M. scapigera long.</text>
<text class="t" x="542" y="75.81">M. spathulata</text>
<text class="t" x="542" y="99.58">M. rigida</text>
<text class="t" x="542" y="123.35">M. nordenskjoeldii</text>
<text class="t" x="542" y="147.12">M. cicatricosa</text>
<text class="t" x="542" y="170.89">M. patagonica</text>
<text class="t" x="542" y="194.66">M. comberi</text>
<text class="t" x="542" y="218.43">M. frigida</text>
<text class="t" x="542" y="242.2">M. virens</text>
<text class="t" x="542" y="265.97">M. cuneata</text>
<text class="t" x="542" y="289.74">M. macrocarpa</text>
<text class="t" x="542" y="313.51">M. minima</text>
<text class="t" x="542" y="337.28">M. chilensis</text>
<text class="t" x="542" y="361.05">M. orbiculata</text>
<text class="t" x="542" y="384.82">M. flexuosa</text>
<text class="t" x="542" y="408.59">M. litoralis</text>
<text class="t" x="542" y="432.36">M. constitutionis</text>
<text class="t" x="542" y="456.13">M. marticorenae</text>
<text class="t" x="542" y="479.9">M. pinnatifida</text>
<text class="t" x="542" y="503.67">M. purpurea</text>
<text class="t" x="542" y="527.44">M. linearis</text>
<text class="t" x="542" y="551.21">M. filifolia</text>
</g>
</g>
<g id="pc3-labels">
<text class="s" x="128" y="613.6">sect. <tspan>Scapigera</tspan></text>
<text class="s" x="122" y="761">sect. <tspan>Cuneata</tspan></text>
<text class="s" x="110" y="938.6">sect. <tspan>Menonvillea</tspan></text>
<text class="p" x="34" y="844">PC3</text>
</g>
<g id="pc3-legend">
<text class="l" x="71" y="1046.5">-1.15</text>
<text class="l" x="211" y="1040.5">trait value</text>
<text class="l" x="340.8" y="1046.5">2.56</text>
<rect class="bar" x="70.5" y="1051" width="271.4" height="6.3"/>
<text class="l" x="209.4" y="1076">length= 7.3 my</text>
</g>

<!-- ================= PC4 ================= -->
<g id="pc4" transform="translate(672 606.5)">
<g id="pc4-edges">
<use href="#T" class="ol"/>
<svg x="0" y="90.23" width="54" height="4.5" viewBox=".57 0 .1 1" preserveAspectRatio="none"><use href="#Q"/></svg>
<svg x="0" y="341.95" width="333" height="4.5" viewBox=".43 0 .33 1" preserveAspectRatio="none"><use href="#R"/></svg>
<svg x="54" y="15.58" width="430" height="4.5" viewBox=".67 0 .27 1" preserveAspectRatio="none"><use href="#Q"/></svg>
<svg x="54" y="164.88" width="247" height="4.5" viewBox=".67 0 .13 1" preserveAspectRatio="none"><use href="#Q"/></svg>
<svg x="484" y="-2.25" width="48.25" height="4.5" viewBox=".06 0 .002 1" preserveAspectRatio="none"><use href="#R"/></svg>
<svg x="484" y="33.41" width="36" height="4.5" viewBox=".94 0 .03 1" preserveAspectRatio="none"><use href="#Q"/></svg>
<svg x="520" y="21.52" width="12.25" height="4.5" viewBox=".97 0 .03 1" preserveAspectRatio="none"><use href="#Q"/></svg>
<svg x="520" y="45.29" width="12.25" height="4.5" viewBox=".97 0 .01 1" preserveAspectRatio="none"><use href="#Q"/></svg>
<svg x="301" y="113.63" width="93" height="4.5" viewBox=".8 0 .1 1" preserveAspectRatio="none"><use href="#Q"/></svg>
<svg x="301" y="216.14" width="53" height="4.5" viewBox=".2 0 .002 1" preserveAspectRatio="none"><use href="#R"/></svg>
<svg x="394" y="86.89" width="22" height="4.5" viewBox=".1 0 .002 1" preserveAspectRatio="none"><use href="#R"/></svg>
<svg x="394" y="140.37" width="138.25" height="4.5" viewBox=".9 0 .02 1" preserveAspectRatio="none"><use href="#Q"/></svg>
<svg x="416" y="69.06" width="116.25" height="4.5" viewBox=".9 0 .1 1" preserveAspectRatio="none"><use href="#Q"/></svg>
<svg x="416" y="104.72" width="95" height="4.5" viewBox=".9 0 .01 1" preserveAspectRatio="none"><use href="#Q"/></svg>
<svg x="511" y="92.83" width="21.25" height="4.5" viewBox=".09 0 .04 1" preserveAspectRatio="none"><use href="#R"/></svg>
<svg x="511" y="116.6" width="21.25" height="4.5" viewBox=".09 0 .01 1" preserveAspectRatio="none"><use href="#R"/></svg>
<svg x="354" y="176.03" width="126" height="4.5" viewBox=".2 0 .02 1" preserveAspectRatio="none"><use href="#R"/></svg>
<svg x="354" y="256.25" width="117" height="4.5" viewBox=".8 0 .01 1" preserveAspectRatio="none"><use href="#Q"/></svg>
<svg x="480" y="164.14" width="52.25" height="4.5" viewBox=".22 0 .02 1" preserveAspectRatio="none"><use href="#R"/></svg>
<svg x="480" y="187.91" width="52.25" height="4.5" viewBox=".22 0 .02 1" preserveAspectRatio="none"><use href="#R"/></svg>
<svg x="471" y="229.51" width="18" height="4.5" viewBox=".81 0 .03 1" preserveAspectRatio="none"><use href="#Q"/></svg>
<svg x="471" y="282.99" width="61.25" height="4.5" viewBox=".19 0 .06 1" preserveAspectRatio="none"><use href="#R"/></svg>
<svg x="489" y="211.68" width="43.25" height="4.5" viewBox=".16 0 .09 1" preserveAspectRatio="none"><use href="#R"/></svg>
<svg x="489" y="247.34" width="10.5" height="4.5" viewBox=".84 0 .05 1" preserveAspectRatio="none"><use href="#Q"/></svg>
<svg x="499.5" y="235.45" width="32.75" height="4.5" viewBox=".89 0 .1 1" preserveAspectRatio="none"><use href="#Q"/></svg>
<svg x="499.5" y="259.22" width="32.75" height="4.5" viewBox=".11 0 .03 1" preserveAspectRatio="none"><use href="#R"/></svg>
<svg x="333" y="306.76" width="199.25" height="4.5" viewBox=".76 0 .21 1" preserveAspectRatio="none"><use href="#R"/></svg>
<svg x="333" y="377.14" width="158.5" height="4.5" viewBox=".76 0 .002 1" preserveAspectRatio="none"><use href="#R"/></svg>
<svg x="491.5" y="342.42" width="27.5" height="4.5" viewBox=".76 0 .17 1" preserveAspectRatio="none"><use href="#R"/></svg>
<svg x="491.5" y="411.87" width="8.5" height="4.5" viewBox=".24 0 .05 1" preserveAspectRatio="none"><use href="#Q"/></svg>
<svg x="519" y="330.53" width="13.25" height="4.5" viewBox=".93 0 .04 1" preserveAspectRatio="none"><use href="#R"/></svg>
<svg x="519" y="354.3" width="13.25" height="4.5" viewBox=".93 0 .04 1" preserveAspectRatio="none"><use href="#R"/></svg>
<svg x="500" y="378.07" width="32.25" height="4.5" viewBox=".29 0 .16 1" preserveAspectRatio="none"><use href="#Q"/></svg>
<svg x="500" y="445.67" width="4.5" height="4.5" viewBox=".71 0 .03 1" preserveAspectRatio="none"><use href="#R"/></svg>
<svg x="504.5" y="401.84" width="27.75" height="4.5" viewBox=".74 0 .22 1" preserveAspectRatio="none"><use href="#R"/></svg>
<svg x="504.5" y="489.5" width="1" height="4.5" viewBox=".26 0 .05 1" preserveAspectRatio="none"><use href="#Q"/></svg>
<svg x="505.5" y="446.41" width="7.5" height="4.5" viewBox=".69 0 .002 1" preserveAspectRatio="none"><use href="#R"/></svg>
<svg x="505.5" y="532.58" width="5.5" height="4.5" viewBox=".69 0 .002 1" preserveAspectRatio="none"><use href="#R"/></svg>
<svg x="513" y="425.61" width="19.25" height="4.5" viewBox=".69 0 .02 1" preserveAspectRatio="none"><use href="#R"/></svg>
<svg x="513" y="467.21" width="4" height="4.5" viewBox=".69 0 .03 1" preserveAspectRatio="none"><use href="#R"/></svg>
<svg x="517" y="449.38" width="15.25" height="4.5" viewBox=".72 0 .16 1" preserveAspectRatio="none"><use href="#R"/></svg>
<svg x="517" y="485.04" width="3" height="4.5" viewBox=".28 0 .12 1" preserveAspectRatio="none"><use href="#Q"/></svg>
<svg x="520" y="473.15" width="12.25" height="4.5" viewBox=".4 0 .02 1" preserveAspectRatio="none"><use href="#Q"/></svg>
<svg x="520" y="496.92" width="12.25" height="4.5" viewBox=".4 0 .08 1" preserveAspectRatio="none"><use href="#Q"/></svg>
<svg x="511" y="520.69" width="21.25" height="4.5" viewBox=".31 0 .09 1" preserveAspectRatio="none"><use href="#Q"/></svg>
<svg x="511" y="544.46" width="21.25" height="4.5" viewBox=".69 0 .02 1" preserveAspectRatio="none"><use href="#R"/></svg>
<svg x="-2.25" y="90.23" width="4.5" height="256.22" viewBox=".43 0 .002 1" preserveAspectRatio="none"><use href="#R"/></svg>
<svg x="51.75" y="15.58" width="4.5" height="153.8" viewBox=".33 0 .002 1" preserveAspectRatio="none"><use href="#R"/></svg>
<svg x="481.75" y="-2.25" width="4.5" height="40.16" viewBox=".06 0 .002 1" preserveAspectRatio="none"><use href="#R"/></svg>
<svg x="517.75" y="21.52" width="4.5" height="28.27" viewBox=".03 0 .002 1" preserveAspectRatio="none"><use href="#R"/></svg>
<svg x="298.75" y="113.63" width="4.5" height="107.01" viewBox=".2 0 .002 1" preserveAspectRatio="none"><use href="#R"/></svg>
<svg x="391.75" y="86.89" width="4.5" height="57.98" viewBox=".1 0 .002 1" preserveAspectRatio="none"><use href="#R"/></svg>
<svg x="413.75" y="69.06" width="4.5" height="40.16" viewBox=".1 0 .002 1" preserveAspectRatio="none"><use href="#R"/></svg>
<svg x="508.75" y="92.83" width="4.5" height="28.27" viewBox=".09 0 .002 1" preserveAspectRatio="none"><use href="#R"/></svg>
<svg x="351.75" y="176.03" width="4.5" height="84.72" viewBox=".2 0 .002 1" preserveAspectRatio="none"><use href="#R"/></svg>
<svg x="477.75" y="164.14" width="4.5" height="28.27" viewBox=".22 0 .002 1" preserveAspectRatio="none"><use href="#R"/></svg>
<svg x="468.75" y="229.51" width="4.5" height="57.98" viewBox=".19 0 .002 1" preserveAspectRatio="none"><use href="#R"/></svg>
<svg x="486.75" y="211.68" width="4.5" height="40.16" viewBox=".16 0 .002 1" preserveAspectRatio="none"><use href="#R"/></svg>
<svg x="497.25" y="235.45" width="4.5" height="28.27" viewBox=".11 0 .002 1" preserveAspectRatio="none"><use href="#R"/></svg>
<svg x="330.75" y="306.76" width="4.5" height="74.88" viewBox=".76 0 .002 1" preserveAspectRatio="none"><use href="#R"/></svg>
<svg x="489.25" y="342.42" width="4.5" height="73.95" viewBox=".76 0 .002 1" preserveAspectRatio="none"><use href="#R"/></svg>
<svg x="516.75" y="330.53" width="4.5" height="28.27" viewBox=".93 0 .002 1" preserveAspectRatio="none"><use href="#R"/></svg>
<svg x="497.75" y="378.07" width="4.5" height="72.1" viewBox=".71 0 .002 1" preserveAspectRatio="none"><use href="#R"/></svg>
<svg x="502.25" y="401.84" width="4.5" height="92.16" viewBox=".74 0 .002 1" preserveAspectRatio="none"><use href="#R"/></svg>
<svg x="503.25" y="446.41" width="4.5" height="90.67" viewBox=".69 0 .002 1" preserveAspectRatio="none"><use href="#R"/></svg>
<svg x="510.75" y="425.61" width="4.5" height="46.1" viewBox=".69 0 .002 1" preserveAspectRatio="none"><use href="#R"/></svg>
<svg x="514.75" y="449.38" width="4.5" height="40.16" viewBox=".72 0 .002 1" preserveAspectRatio="none"><use href="#R"/></svg>
<svg x="517.75" y="473.15" width="4.5" height="28.27" viewBox=".6 0 .002 1" preserveAspectRatio="none"><use href="#R"/></svg>
<svg x="508.75" y="520.69" width="4.5" height="28.27" viewBox=".69 0 .002 1" preserveAspectRatio="none"><use href="#R"/></svg>
</g>
<g id="pc4-tips">
<text class="t" x="544" y="4.5">M. famatinensis</text>
<text class="t" x="544" y="28.27">M. scapigera sca.</text>
<text class="t" x="544" y="52.04">M. scapigera long.</text>
<text class="t" x="544" y="75.81">M. spathulata</text>
<text class="t" x="544" y="99.58">M. rigida</text>
<text class="t" x="544" y="123.35">M. nordenskjoeldii</text>
<text class="t" x="544" y="147.12">M. cicatricosa</text>
<text class="t" x="544" y="170.89">M. patagonica</text>
<text class="t" x="544" y="194.66">M. comberi</text>
<text class="t" x="544" y="218.43">M. frigida</text>
<text class="t" x="544" y="242.2">M. virens</text>
<text class="t" x="544" y="265.97">M. cuneata</text>
<text class="t" x="544" y="289.74">M. macrocarpa</text>
<text class="t" x="544" y="313.51">M. minima</text>
<text class="t" x="544" y="337.28">M. chilensis</text>
<text class="t" x="544" y="361.05">M. orbiculata</text>
<text class="t" x="544" y="384.82">M. flexuosa</text>
<text class="t" x="544" y="408.59">M. litoralis</text>
<text class="t" x="544" y="432.36">M. constitutionis</text>
<text class="t" x="544" y="456.13">M. marticorenae</text>
<text class="t" x="544" y="479.9">M. pinnatifida</text>
<text class="t" x="544" y="503.67">M. purpurea</text>
<text class="t" x="544" y="527.44">M. linearis</text>
<text class="t" x="544" y="551.21">M. filifolia</text>
</g>
</g>
<g id="pc4-labels">
<text class="s" x="791" y="609.6">sect. <tspan>Scapigera</tspan></text>
<text class="s" x="785" y="758">sect. <tspan>Cuneata</tspan></text>
<text class="s" x="772.7" y="934.3">sect. <tspan>Menonvillea</tspan></text>
<text class="p" x="700" y="849">PC4</text>
</g>
<g id="pc4-legend">
<text class="l" x="731" y="1046.5">-1.28</text>
<text class="l" x="862.5" y="1046.5">trait value</text>
<text class="l" x="1000.4" y="1046.5">4.98</text>
<rect class="bar" x="729.4" y="1052.7" width="271" height="6"/>
<text class="l" x="866" y="1076.5">length= 7.3 my</text>
</g>

<!-- ================= PC5 ================= -->
<g id="pc5" transform="translate(12 1196.5)">
<g id="pc5-edges">
<use href="#T" class="ol"/>
<svg x="0" y="90.23" width="54" height="4.5" viewBox=".44 0 .06 1" preserveAspectRatio="none"><use href="#R"/></svg>
<svg x="0" y="341.95" width="333" height="4.5" viewBox=".56 0 .22 1" preserveAspectRatio="none"><use href="#Q"/></svg>
<svg x="54" y="15.58" width="430" height="4.5" viewBox=".5 0 .002 1" preserveAspectRatio="none"><use href="#R"/></svg>
<svg x="54" y="164.88" width="247" height="4.5" viewBox=".5 0 .002 1" preserveAspectRatio="none"><use href="#R"/></svg>
<svg x="484" y="-2.25" width="48.25" height="4.5" viewBox=".5 0 .48 1" preserveAspectRatio="none"><use href="#Q"/></svg>
<svg x="484" y="33.41" width="36" height="4.5" viewBox=".5 0 .22 1" preserveAspectRatio="none"><use href="#R"/></svg>
<svg x="520" y="21.52" width="12.25" height="4.5" viewBox=".72 0 .08 1" preserveAspectRatio="none"><use href="#R"/></svg>
<svg x="520" y="45.29" width="12.25" height="4.5" viewBox=".72 0 .002 1" preserveAspectRatio="none"><use href="#R"/></svg>
<svg x="301" y="113.63" width="93" height="4.5" viewBox=".5 0 .16 1" preserveAspectRatio="none"><use href="#R"/></svg>
<svg x="301" y="216.14" width="53" height="4.5" viewBox=".5 0 .002 1" preserveAspectRatio="none"><use href="#R"/></svg>
<svg x="394" y="86.89" width="22" height="4.5" viewBox=".66 0 .002 1" preserveAspectRatio="none"><use href="#R"/></svg>
<svg x="394" y="140.37" width="138.25" height="4.5" viewBox=".66 0 .31 1" preserveAspectRatio="none"><use href="#R"/></svg>
<svg x="416" y="69.06" width="116.25" height="4.5" viewBox=".66 0 .3 1" preserveAspectRatio="none"><use href="#R"/></svg>
<svg x="416" y="104.72" width="95" height="4.5" viewBox=".34 0 .16 1" preserveAspectRatio="none"><use href="#Q"/></svg>
<svg x="511" y="92.83" width="21.25" height="4.5" viewBox=".5 0 .16 1" preserveAspectRatio="none"><use href="#R"/></svg>
<svg x="511" y="116.6" width="21.25" height="4.5" viewBox=".5 0 .48 1" preserveAspectRatio="none"><use href="#Q"/></svg>
<svg x="354" y="176.03" width="126" height="4.5" viewBox=".5 0 .12 1" preserveAspectRatio="none"><use href="#R"/></svg>
<svg x="354" y="256.25" width="117" height="4.5" viewBox=".5 0 .23 1" preserveAspectRatio="none"><use href="#Q"/></svg>
<svg x="480" y="164.14" width="52.25" height="4.5" viewBox=".62 0 .02 1" preserveAspectRatio="none"><use href="#R"/></svg>
<svg x="480" y="187.91" width="52.25" height="4.5" viewBox=".62 0 .02 1" preserveAspectRatio="none"><use href="#R"/></svg>
<svg x="471" y="229.51" width="18" height="4.5" viewBox=".73 0 .01 1" preserveAspectRatio="none"><use href="#Q"/></svg>
<svg x="471" y="282.99" width="61.25" height="4.5" viewBox=".27 0 .002 1" preserveAspectRatio="none"><use href="#R"/></svg>
<svg x="489" y="211.68" width="43.25" height="4.5" viewBox=".74 0 .11 1" preserveAspectRatio="none"><use href="#Q"/></svg>
<svg x="489" y="247.34" width="10.5" height="4.5" viewBox=".26 0 .02 1" preserveAspectRatio="none"><use href="#R"/></svg>
<svg x="499.5" y="235.45" width="32.75" height="4.5" viewBox=".72 0 .11 1" preserveAspectRatio="none"><use href="#Q"/></svg>
<svg x="499.5" y="259.22" width="32.75" height="4.5" viewBox=".28 0 .22 1" preserveAspectRatio="none"><use href="#R"/></svg>
<svg x="333" y="306.76" width="199.25" height="4.5" viewBox=".78 0 .2 1" preserveAspectRatio="none"><use href="#Q"/></svg>
<svg x="333" y="377.14" width="158.5" height="4.5" viewBox=".22 0 .02 1" preserveAspectRatio="none"><use href="#R"/></svg>
<svg x="491.5" y="342.42" width="27.5" height="4.5" viewBox=".76 0 .19 1" preserveAspectRatio="none"><use href="#Q"/></svg>
<svg x="491.5" y="411.87" width="8.5" height="4.5" viewBox=".24 0 .03 1" preserveAspectRatio="none"><use href="#R"/></svg>
<svg x="519" y="330.53" width="13.25" height="4.5" viewBox=".95 0 .03 1" preserveAspectRatio="none"><use href="#Q"/></svg>
<svg x="519" y="354.3" width="13.25" height="4.5" viewBox=".95 0 .03 1" preserveAspectRatio="none"><use href="#Q"/></svg>
<svg x="500" y="378.07" width="32.25" height="4.5" viewBox=".27 0 .21 1" preserveAspectRatio="none"><use href="#R"/></svg>
<svg x="500" y="445.67" width="4.5" height="4.5" viewBox=".27 0 .05 1" preserveAspectRatio="none"><use href="#R"/></svg>
<svg x="504.5" y="401.84" width="27.75" height="4.5" viewBox=".68 0 .24 1" preserveAspectRatio="none"><use href="#Q"/></svg>
<svg x="504.5" y="489.5" width="1" height="4.5" viewBox=".32 0 .06 1" preserveAspectRatio="none"><use href="#R"/></svg>
<svg x="505.5" y="446.41" width="7.5" height="4.5" viewBox=".38 0 .07 1" preserveAspectRatio="none"><use href="#R"/></svg>
<svg x="505.5" y="532.58" width="5.5" height="4.5" viewBox=".38 0 .1 1" preserveAspectRatio="none"><use href="#R"/></svg>
<svg x="513" y="425.61" width="19.25" height="4.5" viewBox=".45 0 .05 1" preserveAspectRatio="none"><use href="#R"/></svg>
<svg x="513" y="467.21" width="4" height="4.5" viewBox=".45 0 .002 1" preserveAspectRatio="none"><use href="#R"/></svg>
<svg x="517" y="449.38" width="15.25" height="4.5" viewBox=".55 0 .21 1" preserveAspectRatio="none"><use href="#Q"/></svg>
<svg x="517" y="485.04" width="3" height="4.5" viewBox=".45 0 .05 1" preserveAspectRatio="none"><use href="#R"/></svg>
<svg x="520" y="473.15" width="12.25" height="4.5" viewBox=".5 0 .26 1" preserveAspectRatio="none"><use href="#Q"/></svg>
<svg x="520" y="496.92" width="12.25" height="4.5" viewBox=".5 0 .18 1" preserveAspectRatio="none"><use href="#R"/></svg>
<svg x="511" y="520.69" width="21.25" height="4.5" viewBox=".48 0 .04 1" preserveAspectRatio="none"><use href="#R"/></svg>
<svg x="511" y="544.46" width="21.25" height="4.5" viewBox=".52 0 .01 1" preserveAspectRatio="none"><use href="#Q"/></svg>
<svg x="-2.25" y="90.23" width="4.5" height="256.22" viewBox=".44 0 .002 1" preserveAspectRatio="none"><use href="#R"/></svg>
<svg x="51.75" y="15.58" width="4.5" height="153.8" viewBox=".5 0 .002 1" preserveAspectRatio="none"><use href="#R"/></svg>
<svg x="481.75" y="-2.25" width="4.5" height="40.16" viewBox=".5 0 .002 1" preserveAspectRatio="none"><use href="#R"/></svg>
<svg x="517.75" y="21.52" width="4.5" height="28.27" viewBox=".72 0 .002 1" preserveAspectRatio="none"><use href="#R"/></svg>
<svg x="298.75" y="113.63" width="4.5" height="107.01" viewBox=".5 0 .002 1" preserveAspectRatio="none"><use href="#R"/></svg>
<svg x="391.75" y="86.89" width="4.5" height="57.98" viewBox=".66 0 .002 1" preserveAspectRatio="none"><use href="#R"/></svg>
<svg x="413.75" y="69.06" width="4.5" height="40.16" viewBox=".66 0 .002 1" preserveAspectRatio="none"><use href="#R"/></svg>
<svg x="508.75" y="92.83" width="4.5" height="28.27" viewBox=".5 0 .002 1" preserveAspectRatio="none"><use href="#R"/></svg>
<svg x="351.75" y="176.03" width="4.5" height="84.72" viewBox=".5 0 .002 1" preserveAspectRatio="none"><use href="#R"/></svg>
<svg x="477.75" y="164.14" width="4.5" height="28.27" viewBox=".62 0 .002 1" preserveAspectRatio="none"><use href="#R"/></svg>
<svg x="468.75" y="229.51" width="4.5" height="57.98" viewBox=".27 0 .002 1" preserveAspectRatio="none"><use href="#R"/></svg>
<svg x="486.75" y="211.68" width="4.5" height="40.16" viewBox=".26 0 .002 1" preserveAspectRatio="none"><use href="#R"/></svg>
<svg x="497.25" y="235.45" width="4.5" height="28.27" viewBox=".28 0 .002 1" preserveAspectRatio="none"><use href="#R"/></svg>
<svg x="330.75" y="306.76" width="4.5" height="74.88" viewBox=".22 0 .002 1" preserveAspectRatio="none"><use href="#R"/></svg>
<svg x="489.25" y="342.42" width="4.5" height="73.95" viewBox=".24 0 .002 1" preserveAspectRatio="none"><use href="#R"/></svg>
<svg x="516.75" y="330.53" width="4.5" height="28.27" viewBox=".05 0 .002 1" preserveAspectRatio="none"><use href="#R"/></svg>
<svg x="497.75" y="378.07" width="4.5" height="72.1" viewBox=".27 0 .002 1" preserveAspectRatio="none"><use href="#R"/></svg>
<svg x="502.25" y="401.84" width="4.5" height="92.16" viewBox=".32 0 .002 1" preserveAspectRatio="none"><use href="#R"/></svg>
<svg x="503.25" y="446.41" width="4.5" height="90.67" viewBox=".38 0 .002 1" preserveAspectRatio="none"><use href="#R"/></svg>
<svg x="510.75" y="425.61" width="4.5" height="46.1" viewBox=".45 0 .002 1" preserveAspectRatio="none"><use href="#R"/></svg>
<svg x="514.75" y="449.38" width="4.5" height="40.16" viewBox=".45 0 .002 1" preserveAspectRatio="none"><use href="#R"/></svg>
<svg x="517.75" y="473.15" width="4.5" height="28.27" viewBox=".5 0 .002 1" preserveAspectRatio="none"><use href="#R"/></svg>
<svg x="508.75" y="520.69" width="4.5" height="28.27" viewBox=".48 0 .002 1" preserveAspectRatio="none"><use href="#R"/></svg>
</g>
<g id="pc5-tips">
<text class="t" x="542" y="4.5">M. famatinensis</text>
<text class="t" x="542" y="28.27">M. scapigera sca.</text>
<text class="t" x="542" y="52.04">M. scapigera long.</text>
<text class="t" x="542" y="75.81">M. spathulata</text>
<text class="t" x="542" y="99.58">M. rigida</text>
<text class="t" x="542" y="123.35">M. nordenskjoeldii</text>
<text class="t" x="542" y="147.12">M. cicatricosa</text>
<text class="t" x="542" y="170.89">M. patagonica</text>
<text class="t" x="542" y="194.66">M. comberi</text>
<text class="t" x="542" y="218.43">M. frigida</text>
<text class="t" x="542" y="242.2">M. virens</text>
<text class="t" x="542" y="265.97">M. cuneata</text>
<text class="t" x="542" y="289.74">M. macrocarpa</text>
<text class="t" x="542" y="313.51">M. minima</text>
<text class="t" x="542" y="337.28">M. chilensis</text>
<text class="t" x="542" y="361.05">M. orbiculata</text>
<text class="t" x="542" y="384.82">M. flexuosa</text>
<text class="t" x="542" y="408.59">M. litoralis</text>
<text class="t" x="542" y="432.36">M. constitutionis</text>
<text class="t" x="542" y="456.13">M. marticorenae</text>
<text class="t" x="542" y="479.9">M. pinnatifida</text>
<text class="t" x="542" y="503.67">M. purpurea</text>
<text class="t" x="542" y="527.44">M. linearis</text>
<text class="t" x="542" y="551.21">M. filifolia</text>
</g>
</g>
<g id="pc5-labels">
<text class="s" x="126" y="1202">sect. <tspan>Scapigera</tspan></text>
<text class="s" x="121" y="1350.7">sect. <tspan>Cuneata</tspan></text>
<text class="s" x="108.5" y="1528.6">sect. <tspan>Menonvillea</tspan></text>
<text class="p" x="33.3" y="1430">PC5</text>
</g>
<g id="pc5-legend">
<text class="l" x="69.7" y="1639">-1.01</text>
<text class="l" x="202" y="1639">trait value</text>
<text class="l" x="338.5" y="1639">2.06</text>
<rect class="bar" x="67" y="1642.7" width="272.7" height="6.6"/>
<text class="l" x="206" y="1668">length= 7.3 my</text>
</g>
</svg>
